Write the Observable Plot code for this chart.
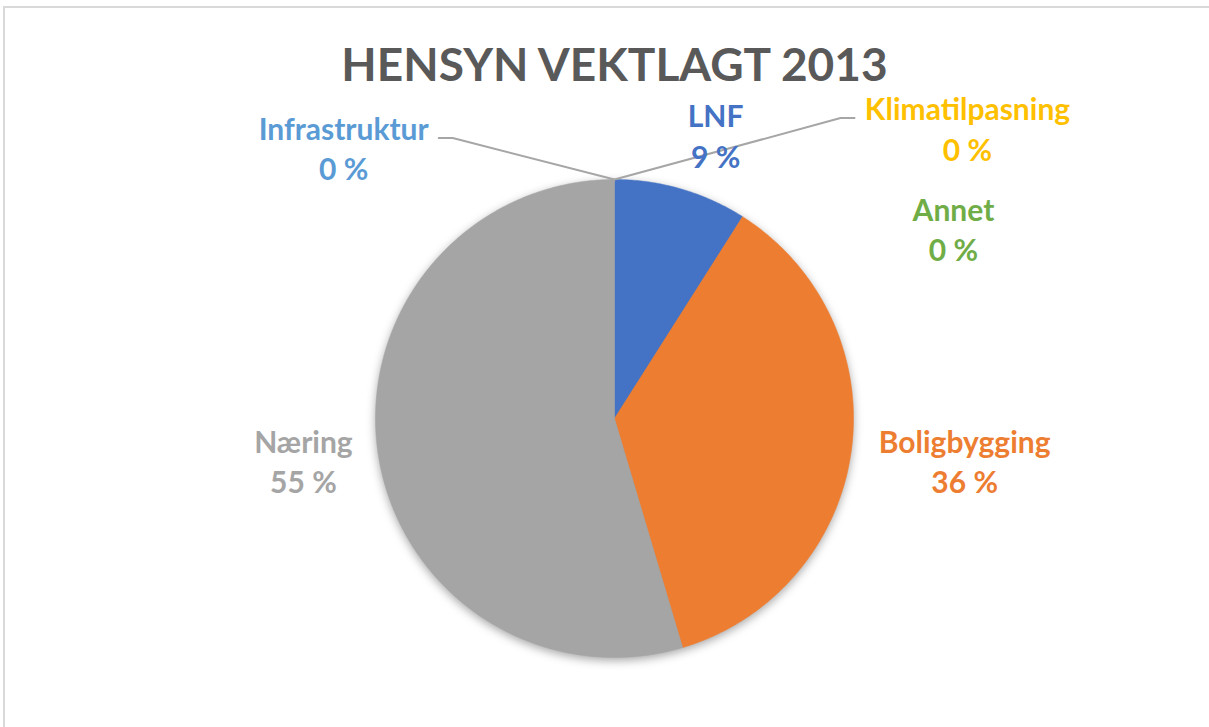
<!DOCTYPE html>
<html><head><meta charset="utf-8">
<script src="https://cdn.jsdelivr.net/npm/d3@7"></script>
<script src="https://cdn.jsdelivr.net/npm/@observablehq/plot@0.6"></script>
<style>
body{margin:0;background:#fff;}
#wrap{position:relative;width:1209px;height:727px;overflow:hidden;background:#fff;}
#border{position:absolute;left:3px;top:6px;width:1300px;height:800px;border-top:2px solid #D9D9D9;border-left:2px solid #D9D9D9;}
#wrap svg{position:absolute;left:0;top:0;}
</style></head><body><div id="wrap"><div id="border"></div></div>
<script>
// ---- data ----
const title = "HENSYN VEKTLAGT 2013";
const categories = ["LNF", "Boligbygging", "Næring", "Klimatilpasning", "Infrastruktur", "Annet"];
const values = [9.0, 36.4, 54.6, 0, 0, 0];
const colors = ["#4472C4", "#ED7D31", "#A5A5A5", "#FFC000", "#5B9BD5", "#70AD47"];

// ---- layout (label placement, degrees clockwise from top, distance in pie radii) ----
const labelAngle = [19.8, 97.3, 261.8, 50.8, 314.7, 61.1];
const labelDist = [1.249, 1.477, 1.315, 1.906, 1.594, 1.62];
const leaderCats = ["Klimatilpasning", "Infrastruktur"];

const R = 239, cx = 614, cy = 418;
const total = d3.sum(values);
const rad = a => a * Math.PI / 180;

// slice polygons (centre -> rim arc -> centre)
const slices = [];
let acc = 0;
categories.forEach((c, i) => {
  const a0 = acc / total * 360, a1 = (acc + values[i]) / total * 360;
  acc += values[i];
  if (values[i] <= 0) return;
  const pts = [{x: 0, y: 0}];
  const n = Math.max(2, Math.ceil((a1 - a0) / 0.5));
  for (let k = 0; k <= n; k++) {
    const a = rad(a0 + (a1 - a0) * k / n);
    pts.push({x: Math.sin(a), y: Math.cos(a)});
  }
  pts.push({x: 0, y: 0});
  slices.push({cat: c, color: colors[i], pts});
});
const rimPts = slices.flatMap(s => s.pts.slice(1, -1));

// labels
const labels = categories.map((c, i) => {
  const a = rad(labelAngle[i]);
  return {cat: c, x: labelDist[i] * Math.sin(a), y: labelDist[i] * Math.cos(a),
          text: c + "\n" + Math.round(values[i] / total * 100) + " %"};
});

// leader lines for zero slices
const leaders = [];
acc = 0;
const startAngle = {};
categories.forEach((c, i) => { startAngle[c] = acc / total * 360; acc += values[i]; });
leaderCats.forEach(c => {
  const i = categories.indexOf(c);
  const L = labels[i];
  const a = rad(startAngle[c]);
  const side = L.x > 0 ? -1 : 1;
  const rowY = L.y + 12.5 / R;
  const halfW = (c === "Klimatilpasning" ? 113 : 95) / R;
  const endX = L.x + side * halfW;
  leaders.push([
    {x: Math.sin(a), y: Math.cos(a)},
    {x: endX + side * 14 / R, y: rowY},
    {x: endX, y: rowY}
  ]);
});

const font = "Lato, 'Open Sans', sans-serif";
const chart = Plot.plot({
  width: 1209, height: 727,
  marginTop: 0, marginBottom: 0, marginLeft: 0, marginRight: 0,
  x: {domain: [-1, 1], range: [cx - R, cx + R], axis: null},
  y: {domain: [-1, 1], range: [cy + R, cy - R], axis: null},
  color: {domain: categories, range: colors},
  style: {background: "transparent", overflow: "visible"},
  marks: [
    Plot.line(rimPts, {x: "x", y: "y", fill: "#000", fillOpacity: 0.35, stroke: "none", dy: 3}),
    ...slices.map(s => Plot.line(s.pts, {x: "x", y: "y", fill: s.color, stroke: s.color, strokeWidth: 0.5})),
    ...leaders.map(l => Plot.line(l, {x: "x", y: "y", stroke: "#A6A6A6", strokeWidth: 2})),
    Plot.text(labels, {x: "x", y: "y", text: "text", fill: "cat", fontSize: 30, fontWeight: "bold",
      fontFamily: font, lineHeight: 1.34, dy: -3, textAnchor: "middle"}),
    Plot.text([title], {x: () => 0, frameAnchor: "top", dy: 48, text: d => d, fill: "#595959",
      fontSize: 46, fontWeight: "bold", fontFamily: font, textAnchor: "middle"})
  ]
});
const firstLine = chart.querySelector('g[aria-label="line"]');
if (firstLine) firstLine.style.filter = "blur(5px)";
document.getElementById("wrap").appendChild(chart);
</script>
</body></html>
